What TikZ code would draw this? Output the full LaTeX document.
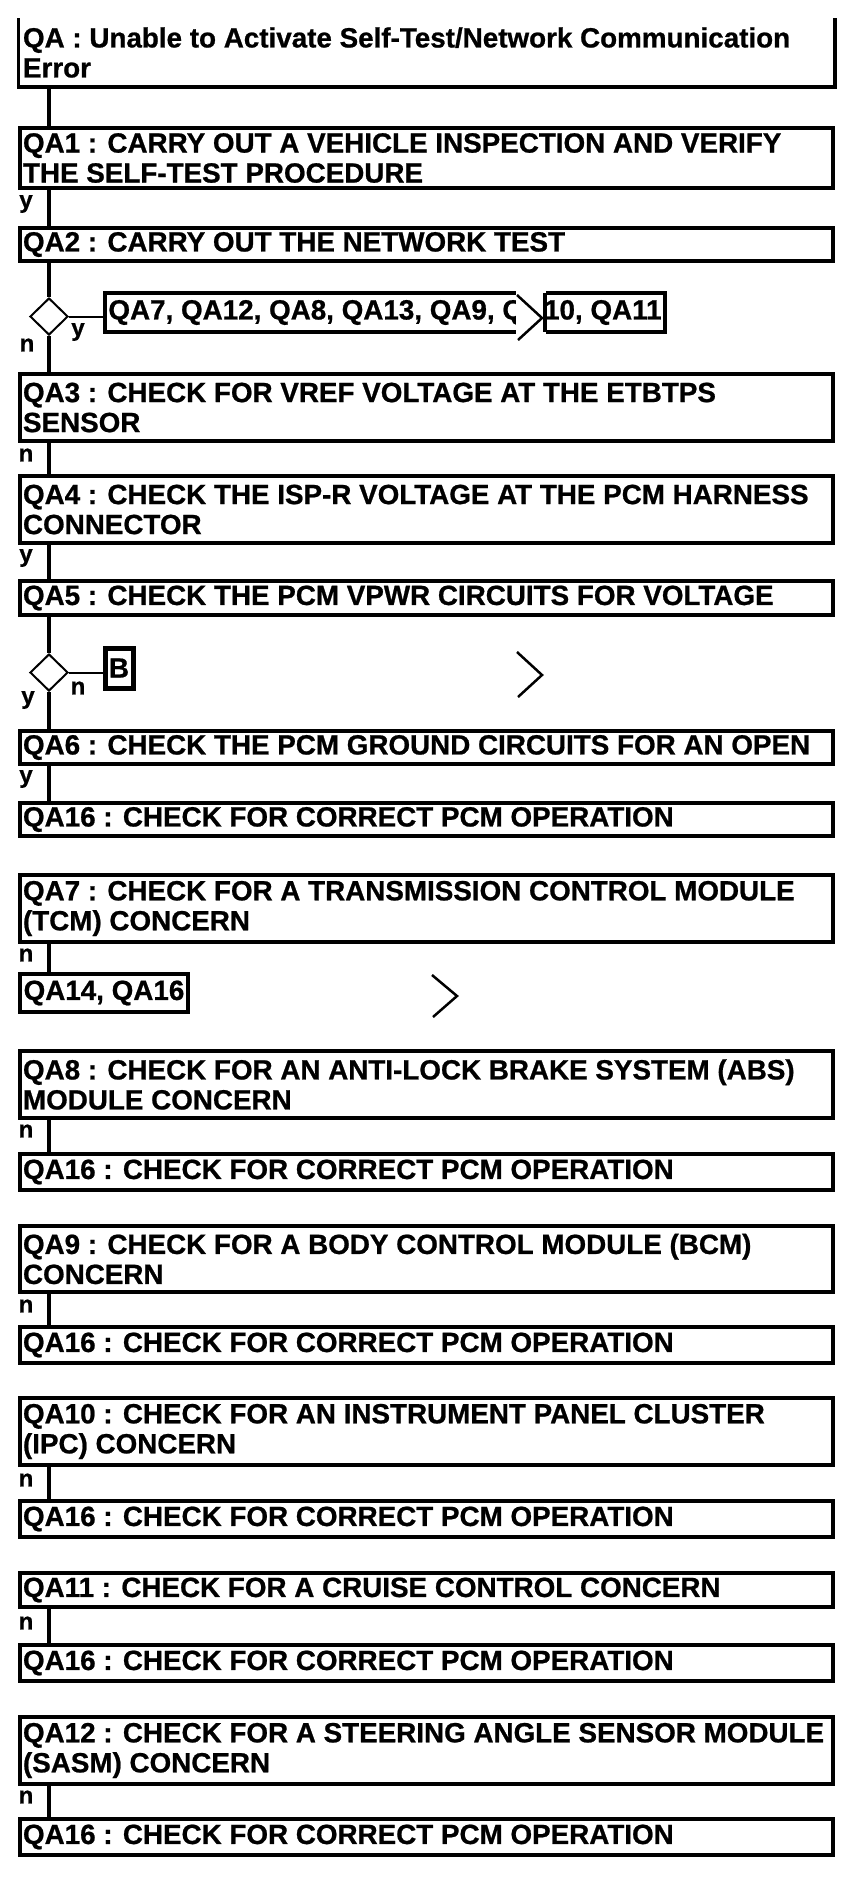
\documentclass[tikz,border=0pt]{standalone}
\usepackage{fontspec}
\setmainfont{Liberation Sans}[BoldFeatures={FakeBold=0.8}]
\usetikzlibrary{shapes.geometric}
\newcommand{\qbox}[4]{\node[box,minimum height={(#3-#2)*1pt}] (#1) at (426.5,{(#2+#3)/2}) {#4};}
\begin{document}
\begin{tikzpicture}[x=1pt,y=-1pt,
  txt/.style={font=\bfseries\fontsize{27.8}{30}\selectfont},
  box/.style={draw,line width=3.5pt,rectangle,text width=807pt,inner xsep=3pt,inner ysep=0pt,align=flush left,txt},
  lab/.style={inner sep=0pt,font=\bfseries\fontsize{24}{24}\selectfont},
  conn/.style={line width=3.5pt},
  thinln/.style={line width=2pt},
  chev/.style={line width=2.5pt},
  dec/.style={draw,diamond,line width=2pt,minimum width=38pt,minimum height=37pt,inner sep=0pt}]
\useasboundingbox (0,0) rectangle (864,1880);
\coordinate (vx) at (49,0);
% top box (no top border)
\node[box,draw=none,minimum height=65pt] (QA) at (426.5,52.5) {QA : Unable to Activate Self-Test/Network Communication\\Error};
\draw[line width=3.5pt] (QA.north west) -- (QA.south west) -- (QA.south east) -- (QA.north east);
\qbox{QA1}{128}{188}{QA1 : CARRY OUT A VEHICLE INSPECTION AND VERIFY\\THE SELF-TEST PROCEDURE}
\qbox{QA2}{228}{261}{QA2 : CARRY OUT THE NETWORK TEST}
\qbox{QA3}{374}{441}{QA3 : CHECK FOR VREF VOLTAGE AT THE ETBTPS\\SENSOR}
\qbox{QA4}{476}{543}{QA4 : CHECK THE ISP-R VOLTAGE AT THE PCM HARNESS\\CONNECTOR}
\qbox{QA5}{581}{615}{QA5 : CHECK THE PCM VPWR CIRCUITS FOR VOLTAGE}
\qbox{QA6}{731}{764}{QA6 : CHECK THE PCM GROUND CIRCUITS FOR AN OPEN}
\qbox{QA16a}{803}{836}{QA16 : CHECK FOR CORRECT PCM OPERATION}
\qbox{QA7}{875}{942}{QA7 : CHECK FOR A TRANSMISSION CONTROL MODULE\\(TCM) CONCERN}
\qbox{QA8}{1051}{1118}{QA8 : CHECK FOR AN ANTI-LOCK BRAKE SYSTEM (ABS)\\MODULE CONCERN}
\qbox{QA16b}{1154}{1190}{QA16 : CHECK FOR CORRECT PCM OPERATION}
\qbox{QA9}{1226}{1292}{QA9 : CHECK FOR A BODY CONTROL MODULE (BCM)\\CONCERN}
\qbox{QA16c}{1327}{1363}{QA16 : CHECK FOR CORRECT PCM OPERATION}
\qbox{QA10}{1398}{1465}{QA10 : CHECK FOR AN INSTRUMENT PANEL CLUSTER\\(IPC) CONCERN}
\qbox{QA16d}{1501}{1537}{QA16 : CHECK FOR CORRECT PCM OPERATION}
\qbox{QA11}{1573}{1607}{QA11 : CHECK FOR A CRUISE CONTROL CONCERN}
\qbox{QA16e}{1645}{1681}{QA16 : CHECK FOR CORRECT PCM OPERATION}
\qbox{QA12}{1717}{1784}{QA12 : CHECK FOR A STEERING ANGLE SENSOR MODULE\\(SASM) CONCERN}
\qbox{QA16f}{1819}{1855}{QA16 : CHECK FOR CORRECT PCM OPERATION}
% decisions
\node[dec] (d1) at (49,316.5) {};
\node[dec] (d2) at (49,672.5) {};
% side boxes
\node[draw,line width=3.5pt,minimum width=560pt,minimum height=39pt,inner sep=0pt,txt] (L1) at (385,312.5) {QA7, QA12, QA8, QA13, QA9, QA10, QA11};
\node[draw,line width=5pt,minimum width=28pt,minimum height=40pt,inner sep=0pt,txt] (B) at (119,668) {B};
\node[draw,line width=4pt,minimum width=168pt,minimum height=38pt,inner sep=0pt,txt] (L2) at (104,993) {QA14, QA16};
% chevron marks
\fill[white] (516,290) rectangle (546,335);
\draw[chev] (517,295) -- (542,318) -- (518,340);
\draw[line width=3.5pt] (545,293) -- (545,332);
\draw[chev] (517,652) -- (542,675) -- (518,697);
\draw[chev] (432,975) -- (457,996) -- (433,1017);
% connectors
\draw[conn] (QA.south -| vx) -- (QA1.north -| vx);
\draw[conn] (QA1.south -| vx) -- (QA2.north -| vx);
\draw[conn] (QA2.south -| vx) -- (d1.north);
\draw[conn] (d1.south) -- (QA3.north -| vx);
\draw[thinln] (d1.east) -- (d1.east -| L1.west);
\draw[conn] (QA3.south -| vx) -- (QA4.north -| vx);
\draw[conn] (QA4.south -| vx) -- (QA5.north -| vx);
\draw[conn] (QA5.south -| vx) -- (d2.north);
\draw[conn] (d2.south) -- (QA6.north -| vx);
\draw[thinln] (d2.east) -- (d2.east -| B.west);
\draw[conn] (QA6.south -| vx) -- (QA16a.north -| vx);
\draw[conn] (QA7.south -| vx) -- (L2.north -| vx);
\draw[conn] (QA8.south -| vx) -- (QA16b.north -| vx);
\draw[conn] (QA9.south -| vx) -- (QA16c.north -| vx);
\draw[conn] (QA10.south -| vx) -- (QA16d.north -| vx);
\draw[conn] (QA11.south -| vx) -- (QA16e.north -| vx);
\draw[conn] (QA12.south -| vx) -- (QA16f.north -| vx);
% labels
\node[lab] (ly1) at (26,204) {y};
\node[lab] (ln1) at (27,345) {n};
\node[lab] (ly2) at (78,332) {y};
\node[lab] (ln2) at (26,455) {n};
\node[lab] (ly3) at (26,558) {y};
\node[lab] (ln3) at (78,688) {n};
\node[lab] (ly4) at (28,700) {y};
\node[lab] (ly5) at (26,779) {y};
\node[lab] (ln4) at (26,955) {n};
\node[lab] (ln5) at (26,1131) {n};
\node[lab] (ln6) at (26,1306) {n};
\node[lab] (ln7) at (26,1480) {n};
\node[lab] (ln8) at (26,1623) {n};
\node[lab] (ln9) at (26,1797) {n};
\end{tikzpicture}
\end{document}
